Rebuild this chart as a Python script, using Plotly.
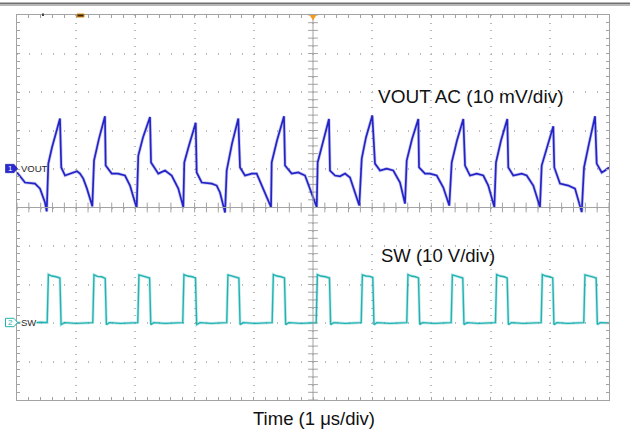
import numpy as np
import plotly.graph_objects as go

# ---------------- data (read from the scope capture) ----------------
# time in microseconds, VOUT AC in mV (10 mV/div), SW in V (10 V/div)
vout_t = [
    -5.000, -4.865, -4.696, -4.611, -4.527, -4.498,
    -4.471, -4.409, -4.274,
    -4.252, -4.189, -4.105, -3.986, -3.936, -3.880, -3.818, -3.767, -3.728,
    -3.699, -3.615, -3.514,
    -3.502, -3.400, -3.294, -3.176, -3.091, -3.007, -2.978,
    -2.951, -2.872, -2.753,
    -2.736, -2.613, -2.500, -2.387, -2.275, -2.191,
    -2.174, -2.095, -1.981,
    -1.965, -1.880, -1.711, -1.627, -1.571, -1.486,
    -1.458, -1.368, -1.262,
    -1.233, -1.149, -1.035, -0.951, -0.867, -0.782, -0.709,
    -0.698, -0.608, -0.490,
    -0.473, -0.360, -0.248, -0.135, -0.022, 0.034, 0.063,
    0.079, 0.169, 0.270,
    0.287, 0.372, 0.456, 0.541, 0.625, 0.709, 0.782,
    0.823, 0.895, 1.002,
    1.047, 1.132, 1.245, 1.356, 1.470, 1.554,
    1.583, 1.672, 1.779,
    1.791, 1.892, 1.976, 2.090, 2.201, 2.302,
    2.343, 2.432, 2.539,
    2.568, 2.652, 2.765, 2.877, 2.961, 3.063,
    3.091, 3.176, 3.282,
    3.299, 3.383, 3.525, 3.610, 3.721, 3.834,
    3.863, 3.953, 4.059,
    4.076, 4.172, 4.313, 4.426, 4.539,
    4.578, 4.662, 4.764,
    4.792, 4.877, 4.932, 5.000,
]
vout_mv = [
    -0.9, -3.5, -3.8, -5.1, -8.7, -11.0,
    1.4, 5.6, 13.1,
    0.4, -1.7, -1.2, -0.6, -1.2, -2.5, -5.1, -7.7, -9.7,
    2.2, 7.9, 13.7,
    0.9, -1.2, -1.2, -1.7, -4.3, -8.7, -9.9,
    3.5, 8.2, 13.5,
    1.7, -1.2, -0.4, -1.7, -5.1, -9.9,
    1.7, 6.1, 12.0,
    -0.9, -3.5, -3.8, -4.3, -6.1, -11.3,
    -0.4, 6.6, 13.1,
    0.4, -1.7, -1.2, -1.2, -4.3, -7.7, -9.9,
    1.7, 7.4, 13.7,
    0.9, -1.2, -0.9, -1.7, -6.1, -8.7, -9.9,
    1.7, 7.4, 13.0,
    -0.4, -1.7, -1.9, -1.2, -2.2, -6.1, -9.5,
    2.7, 8.2, 13.9,
    1.4, -0.4, 0.1, -0.4, -3.5, -9.0,
    2.2, 7.7, 13.0,
    0.4, -1.2, -1.2, -1.7, -4.8, -9.5,
    1.7, 7.4, 13.0,
    0.9, -1.7, -1.2, -1.7, -4.3, -9.9,
    1.7, 7.4, 13.0,
    0.4, -1.7, -1.2, -1.7, -4.3, -9.9,
    0.9, 5.8, 11.1,
    0.4, -3.8, -4.3, -5.1, -11.2,
    0.4, 6.6, 13.7,
    1.4, -0.9, -0.4, 0.4,
]

sw_t = [
    -5.00, -4.80, -4.60,
    -4.490, -4.470, -4.41, -4.34, -4.275, -4.255, -4.20, -4.00, -3.85,
    -3.720, -3.700, -3.64, -3.57, -3.510, -3.490, -3.44, -3.25, -3.05,
    -2.960, -2.940, -2.88, -2.81, -2.760, -2.740, -2.69, -2.50, -2.30,
    -2.200, -2.180, -2.12, -2.04, -1.985, -1.965, -1.91, -1.72, -1.55,
    -1.457, -1.437, -1.38, -1.31, -1.252, -1.232, -1.18, -0.98, -0.78,
    -0.690, -0.670, -0.61, -0.54, -0.482, -0.462, -0.41, -0.20, 0.00,
    0.054, 0.074, 0.13, 0.21, 0.278, 0.298, 0.35, 0.55, 0.75,
    0.814, 0.834, 0.89, 0.96, 1.010, 1.030, 1.08, 1.30, 1.50,
    1.584, 1.604, 1.66, 1.73, 1.782, 1.802, 1.85, 2.05, 2.25,
    2.334, 2.354, 2.41, 2.48, 2.530, 2.550, 2.60, 2.80, 3.00,
    3.082, 3.102, 3.16, 3.23, 3.280, 3.300, 3.35, 3.55, 3.75,
    3.854, 3.874, 3.93, 4.00, 4.050, 4.070, 4.12, 4.30, 4.50,
    4.574, 4.594, 4.65, 4.72, 4.783, 4.803, 4.85, 5.00,
]
sw_v = [
    0.1, -0.1, 0.2,
    0.1, 12.6, 12.2, 12.0, 11.7, -0.4, 0.1, -0.1, 0.1,
    0.1, 12.5, 12.1, 12.0, 11.6, -0.4, 0.1, -0.1, 0.1,
    0.1, 12.5, 12.2, 12.0, 11.7, -0.4, 0.1, -0.1, 0.1,
    0.1, 12.6, 12.2, 12.0, 11.7, -0.4, 0.1, -0.1, 0.1,
    0.1, 12.5, 12.2, 12.0, 11.7, -0.4, 0.1, -0.1, 0.1,
    0.1, 12.6, 12.2, 12.0, 11.7, -0.4, 0.1, -0.1, 0.1,
    0.1, 12.6, 12.2, 12.0, 11.7, -0.4, 0.1, -0.1, 0.1,
    0.1, 12.5, 12.2, 12.1, 11.8, -0.4, 0.1, -0.1, 0.1,
    0.1, 12.6, 12.2, 12.0, 11.7, -0.4, 0.1, -0.1, 0.1,
    0.1, 12.5, 12.2, 12.0, 11.7, -0.4, 0.1, -0.1, 0.1,
    0.1, 12.6, 12.2, 12.0, 11.7, -0.4, 0.1, -0.1, 0.1,
    0.1, 12.6, 12.2, 12.0, 11.7, -0.4, 0.1, -0.1, 0.1,
    0.1, 12.5, 12.2, 12.0, 11.7, -0.4, 0.1, 0.0,
]

# ---------------- styling ----------------
FRAME = "#a3a3a3"
GRID = "#b9b9b9"
BLUE = "#2424c6"
CYAN = "#22b2b2"
FONT = "Liberation Sans, Arial, sans-serif"

L, R, T, B = 17, 609, 15, 400  # plot frame in pixels


def px(x):
    return (x - L) / (R - L)


def py(y):
    return (B - y) / (B - T)


fig = go.Figure()

# graticule ticks on the centre cross-hair
gx = np.round(np.arange(-5, 5.0001, 0.2), 3)
gy = np.arange(-60, 40.001, 2.0)
fig.add_trace(go.Scatter(x=gx, y=np.full(gx.size, -10.0), mode="markers",
                         marker=dict(symbol="line-ns", size=7, color=FRAME,
                                     line=dict(width=1, color=FRAME)),
                         hoverinfo="skip", showlegend=False, cliponaxis=False))
fig.add_trace(go.Scatter(x=np.zeros(gy.size), y=gy, mode="markers",
                         marker=dict(symbol="line-ew", size=7, color=FRAME,
                                     line=dict(width=1, color=FRAME)),
                         hoverinfo="skip", showlegend=False, cliponaxis=False))

# SW trace (soft halo + core line)
fig.add_trace(go.Scatter(x=sw_t, y=sw_v, mode="lines", yaxis="y2",
                         line=dict(color=CYAN, width=3.0), opacity=0.25,
                         hoverinfo="skip", showlegend=False))
fig.add_trace(go.Scatter(x=sw_t, y=sw_v, mode="lines", yaxis="y2",
                         line=dict(color=CYAN, width=1.4), showlegend=False))
# VOUT trace (soft halo + core line)
fig.add_trace(go.Scatter(x=vout_t, y=vout_mv, mode="lines", yaxis="y",
                         line=dict(color=BLUE, width=3.2), opacity=0.25,
                         hoverinfo="skip", showlegend=False))
fig.add_trace(go.Scatter(x=vout_t, y=vout_mv, mode="lines", yaxis="y",
                         line=dict(color=BLUE, width=1.7), showlegend=False))

shapes = [
    dict(type="line", xref="x", yref="paper", x0=0, x1=0, y0=0, y1=1,
         line=dict(color=FRAME, width=1)),
    dict(type="line", xref="paper", yref="y", x0=0, x1=1, y0=-10, y1=-10,
         line=dict(color=FRAME, width=1)),
    # header bar at top of capture
    dict(type="line", xref="paper", yref="paper", x0=px(0), x1=px(630),
         y0=py(3.5), y1=py(3.5), line=dict(color="#707070", width=2)),
    dict(type="line", xref="paper", yref="paper", x0=px(0), x1=px(630),
         y0=py(5.5), y1=py(5.5), line=dict(color="#b8b8b8", width=1)),
    # trigger position marker
    dict(type="path", xref="paper", yref="paper",
         path=f"M {px(309.5)} {py(15)} L {px(316.5)} {py(15)} L {px(313)} {py(20.5)} Z",
         fillcolor="#f39c1f", line=dict(width=0)),
    # small markers at top left
    dict(type="rect", xref="paper", yref="paper", x0=px(77), x1=px(84),
         y0=py(17), y1=py(14), fillcolor="#3a2a10", line=dict(color="#e08a10", width=1)),
    dict(type="rect", xref="paper", yref="paper", x0=px(42), x1=px(44),
         y0=py(16), y1=py(13.5), fillcolor="#444", line=dict(width=0)),
    # channel 1 marker
    dict(type="path", xref="paper", yref="paper",
         path=(f"M {px(5.5)} {py(164.3)} L {px(14)} {py(164.3)} L {px(17.5)} {py(168.5)} "
               f"L {px(14)} {py(172.7)} L {px(5.5)} {py(172.7)} Z"),
         fillcolor="#2a2ad2", line=dict(color="#1a1aa0", width=0.6)),
    # channel 2 marker
    dict(type="path", xref="paper", yref="paper",
         path=(f"M {px(5.5)} {py(318.3)} L {px(14)} {py(318.3)} L {px(17.5)} {py(322.5)} "
               f"L {px(14)} {py(326.7)} L {px(5.5)} {py(326.7)} Z"),
         fillcolor="white", line=dict(color=CYAN, width=1)),
]

annotations = [
    dict(text="1", xref="paper", yref="paper", x=px(10), y=py(168.6), showarrow=False,
         font=dict(family=FONT, size=8, color="white"), xanchor="center", yanchor="middle"),
    dict(text="VOUT", xref="paper", yref="paper", x=px(18.5), y=py(168.5), showarrow=False,
         font=dict(family=FONT, size=9.5, color="#2a2a2a"), xanchor="left", yanchor="middle"),
    dict(text="2", xref="paper", yref="paper", x=px(10), y=py(322.6), showarrow=False,
         font=dict(family=FONT, size=8, color=CYAN), xanchor="center", yanchor="middle"),
    dict(text="SW", xref="paper", yref="paper", x=px(19.5), y=py(322.5), showarrow=False,
         font=dict(family=FONT, size=9.5, color="#2a2a2a"), xanchor="left", yanchor="middle",
         bgcolor="white", borderpad=0),
    dict(text="VOUT AC (10 mV/div)", xref="paper", yref="paper", x=px(376), y=py(97),
         showarrow=False, font=dict(family=FONT, size=19, color="#111111"),
         xanchor="left", yanchor="middle"),
    dict(text="SW (10 V/div)", xref="paper", yref="paper", x=px(379), y=py(255),
         showarrow=False, font=dict(family=FONT, size=18.5, color="#111111"),
         xanchor="left", yanchor="middle"),
    dict(text="Time (1 \u03bcs/div)", xref="paper", yref="paper", x=px(314), y=py(418),
         showarrow=False, font=dict(family=FONT, size=18.5, color="#111111"),
         xanchor="center", yanchor="middle"),
]

fig.update_layout(
    width=640, height=434,
    margin=dict(l=L, r=640 - R, t=T, b=434 - B, pad=0),
    paper_bgcolor="white", plot_bgcolor="white",
    showlegend=False,
    xaxis=dict(range=[-5, 5], tick0=0, dtick=1, showgrid=True, gridcolor=GRID,
               gridwidth=2, griddash="1px,6.7px", zeroline=False,
               showline=True, linecolor=FRAME, linewidth=1, mirror="ticks",
               ticks="inside", ticklen=3, tickcolor=FRAME, showticklabels=False,
               minor=dict(tick0=0, dtick=0.2, ticks="inside", ticklen=3,
                          tickcolor=FRAME, showgrid=False)),
    yaxis=dict(range=[-60, 40], tick0=0, dtick=10, showgrid=True, gridcolor=GRID,
               gridwidth=2, griddash="1px,10.84px", zeroline=False,
               showline=True, linecolor=FRAME, linewidth=1, mirror="ticks",
               ticks="inside", ticklen=3, tickcolor=FRAME, showticklabels=False,
               minor=dict(tick0=0, dtick=2, ticks="inside", ticklen=3,
                          tickcolor=FRAME, showgrid=False)),
    yaxis2=dict(range=[-20, 80], overlaying="y", visible=False),
    shapes=shapes,
    annotations=annotations,
)

fig.write_html(
    "out.html",
    config={"displayModeBar": False},
    post_script="document.body.style.margin='0px';document.body.style.overflow='hidden';",
)
